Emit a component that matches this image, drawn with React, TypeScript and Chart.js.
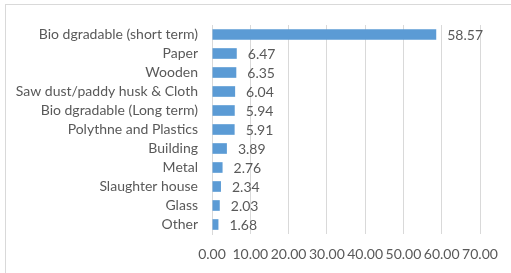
import React, { useEffect, useRef } from "react";
import { Chart, registerables } from "chart.js";

Chart.register(...registerables);

const categories = [
  "Bio dgradable (short term)",
  "Paper",
  "Wooden",
  "Saw dust/paddy husk & Cloth",
  "Bio dgradable (Long term)",
  "Polythne and Plastics",
  "Building",
  "Metal",
  "Slaughter house",
  "Glass",
  "Other",
];
const values = [58.57, 6.47, 6.35, 6.04, 5.94, 5.91, 3.89, 2.76, 2.34, 2.03, 1.68];
const xTicks = [0, 10, 20, 30, 40, 50, 60, 70];

const FONT = "Lato, 'Open Sans', sans-serif";
const TEXT = "#595959";
const SIZE = 14;

const valueLabels = {
  id: "valueLabels",
  afterDatasetsDraw(chart: any) {
    const ctx = chart.ctx;
    const meta = chart.getDatasetMeta(0);
    ctx.save();
    ctx.font = `${SIZE}px ${FONT}`;
    ctx.fillStyle = TEXT;
    ctx.textAlign = "left";
    ctx.textBaseline = "middle";
    meta.data.forEach((bar: any, i: number) => {
      ctx.fillText(values[i].toFixed(2), bar.x + 11, bar.y + 1);
    });
    ctx.restore();
  },
};

export default function App() {
  const ref = useRef<HTMLCanvasElement>(null);
  useEffect(() => {
    if (!ref.current) return;
    const chart = new Chart(ref.current, {
      type: "bar",
      data: {
        labels: categories,
        datasets: [
          {
            data: values,
            backgroundColor: "#5B9BD5",
            borderWidth: 0,
            categoryPercentage: 1,
            barPercentage: 0.56,
          },
        ],
      },
      options: {
        indexAxis: "y",
        animation: false,
        responsive: false,
        layout: { padding: { top: 25, right: 31, left: 0, bottom: 0 } },
        plugins: { legend: { display: false }, tooltip: { enabled: false } },
        scales: {
          x: {
            min: 0,
            max: 70,
            afterBuildTicks: (s: any) => {
              s.ticks = xTicks.map((v) => ({ value: v }));
            },
            afterFit: (s: any) => {
              s.height = 39;
            },
            ticks: {
              callback: (v: any) => Number(v).toFixed(2),
              color: TEXT,
              font: { family: FONT, size: SIZE },
              padding: 12,
              maxRotation: 0,
              autoSkip: false,
            },
            grid: { color: "#D9D9D9", drawTicks: false },
            border: { display: false },
          },
          y: {
            afterFit: (s: any) => {
              s.width = 212;
            },
            ticks: {
              color: TEXT,
              font: { family: FONT, size: SIZE },
              padding: 14,
              autoSkip: false,
            },
            grid: { display: false, drawTicks: false },
            border: { display: true, color: "#D9D9D9" },
          },
        },
      },
      plugins: [valueLabels],
    });
    return () => chart.destroy();
  }, []);

  return (
    <div
      style={{
        position: "fixed",
        left: 0,
        top: 0,
        width: 511,
        height: 273,
        background: "#fff",
      }}
    >
      <div
        style={{
          position: "absolute",
          left: 5,
          top: 4,
          width: 520,
          height: 290,
          borderTop: "1px solid #D9D9D9",
          borderLeft: "1px solid #D9D9D9",
        }}
      />
      <canvas
        ref={ref}
        width={511}
        height={273}
        style={{ position: "absolute", left: 0, top: 0 }}
      />
    </div>
  );
}
